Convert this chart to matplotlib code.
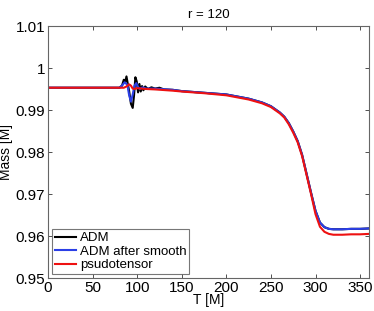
import matplotlib
matplotlib.use("Agg")
import matplotlib.pyplot as plt

plt.rcParams['font.family'] = ['Liberation Sans', 'DejaVu Sans']

# ADM (raw)
t_adm = [0, 80, 83, 85, 86.5, 88, 89.5, 91, 93, 95, 96.5, 98, 99.5, 101, 102.5, 104, 105.5, 107,
         109, 112, 116, 120, 125, 130, 140, 150, 175, 200, 225, 240, 250, 260, 265, 270, 275,
         280, 285, 290, 295, 300, 305, 310, 315, 320, 330, 340, 350, 360]
m_adm = [0.9953, 0.9953, 0.9958, 0.9972, 0.9966, 0.9980, 0.9962, 0.9945, 0.9915, 0.9905,
         0.9935, 0.9978, 0.9968, 0.9942, 0.9962, 0.9944, 0.9957, 0.9947, 0.9956, 0.9950,
         0.9954, 0.9951, 0.9953, 0.9949, 0.9948, 0.9945, 0.9941, 0.9937, 0.9927, 0.9918,
         0.9909, 0.9894, 0.9884, 0.9869, 0.9849, 0.9826, 0.9793, 0.9748, 0.9703, 0.9660,
         0.9632, 0.9621, 0.9617, 0.9616, 0.9616, 0.9617, 0.9617, 0.9618]

# ADM after smooth
t_smooth = [0, 80, 83, 86, 89, 91, 93, 95, 97, 99, 101, 103, 106, 110, 120, 140, 150, 175,
            200, 225, 240, 250, 260, 265, 270, 275, 280, 285, 290, 295, 300, 305, 310, 315,
            320, 330, 340, 350, 360]
m_smooth = [0.9953, 0.9953, 0.9958, 0.9966, 0.9960, 0.9935, 0.9920, 0.9937, 0.9958, 0.9964,
            0.9955, 0.9950, 0.9954, 0.9951, 0.9951, 0.9948, 0.9945, 0.9941, 0.9937, 0.9927,
            0.9918, 0.9909, 0.9894, 0.9884, 0.9869, 0.9849, 0.9826, 0.9793, 0.9748, 0.9703,
            0.9660, 0.9632, 0.9621, 0.9617, 0.9616, 0.9616, 0.9617, 0.9617, 0.9618]

# pseudotensor
t_pseudo = [0, 85, 88, 91, 93, 95, 97, 100, 105, 110, 120, 140, 150, 175, 200, 225, 240, 250,
            260, 265, 270, 275, 280, 285, 290, 295, 300, 305, 310, 315, 320, 330, 340, 350, 360]
m_pseudo = [0.9953, 0.9953, 0.9956, 0.9961, 0.9958, 0.9951, 0.9950, 0.9952, 0.9951, 0.9950,
            0.9949, 0.9946, 0.9944, 0.9940, 0.9935, 0.9925, 0.9916, 0.9907, 0.9892, 0.9882,
            0.9866, 0.9846, 0.9823, 0.9790, 0.9745, 0.9700, 0.9652, 0.9622, 0.9610, 0.9605,
            0.9603, 0.9603, 0.9604, 0.9604, 0.9605]

xticks = [0, 50, 100, 150, 200, 250, 300, 350]
yticks = [0.95, 0.96, 0.97, 0.98, 0.99, 1.0, 1.01]
ytick_labels = ['0.95', '0.96', '0.97', '0.98', '0.99', '1', '1.01']

fig = plt.figure(figsize=(3.74, 3.11), dpi=100)
ax = fig.add_axes([48/374, 1 - 278/311, (369-48)/374, (278-26)/311])

ax.plot(t_adm, m_adm, color='black', lw=1.5, label='ADM')
ax.plot(t_smooth, m_smooth, color='#2b3fe6', lw=1.5, label='ADM after smooth')
ax.plot(t_pseudo, m_pseudo, color='#ee1111', lw=1.5, label='psudotensor')

ax.set_xlim(0, 360)
ax.set_ylim(0.95, 1.01)
ax.set_xticks(xticks)
ax.set_yticks(yticks)
ax.set_yticklabels(ytick_labels)
ax.tick_params(direction='in', top=True, right=True, labelsize=11, length=3, width=0.6,
               colors='#333333', labelcolor='black', pad=2)
for s in ax.spines.values():
    s.set_color('#666666')
    s.set_linewidth(0.8)
ax.set_title('r = 120', fontsize=9.5, pad=6)
ax.set_xlabel('T [M]', fontsize=10, labelpad=-1)
ax.set_ylabel('Mass [M]', fontsize=10, labelpad=2)
leg = ax.legend(loc='lower left', fontsize=9.5, frameon=True, fancybox=False,
                borderaxespad=0.3, handlelength=1.6, handletextpad=0.3,
                labelspacing=0.1, borderpad=0.2)
leg.get_frame().set_edgecolor('#555555')
leg.get_frame().set_linewidth(0.8)

fig.savefig('out.png', dpi=100)
